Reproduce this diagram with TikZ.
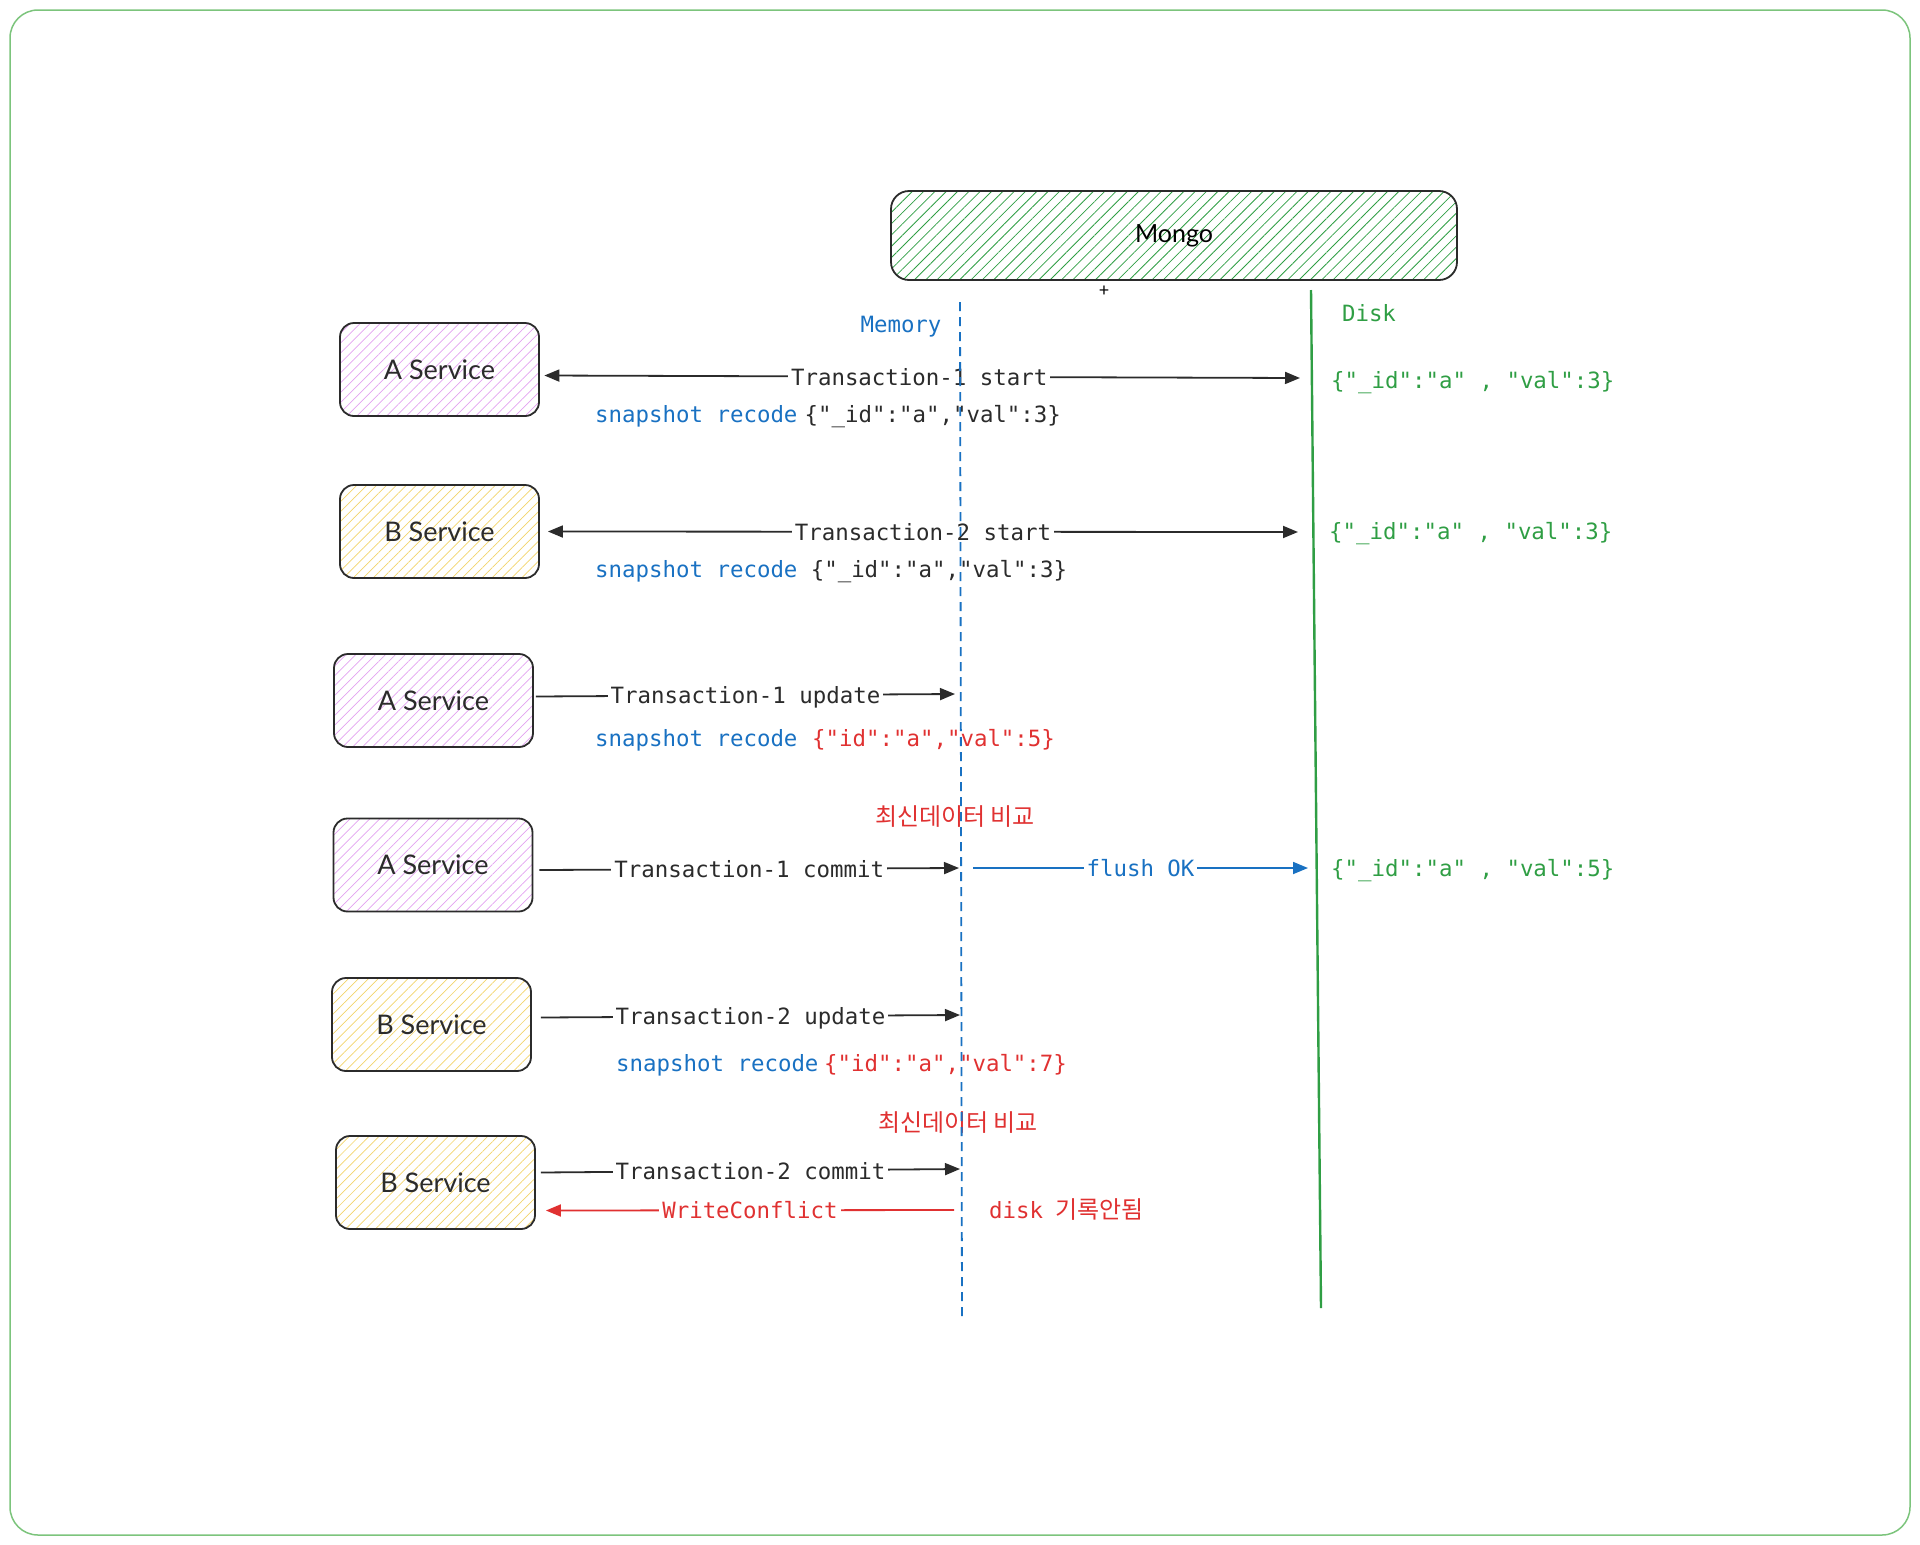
\documentclass[tikz,border=0pt]{standalone}
\usepackage{fontspec}
\setmainfont{Lato}
\setmonofont{DejaVu Sans Mono}
\newfontfamily\korfont{Noto Sans CJK KR}
\newfontfamily\handfont{Lato}
\usetikzlibrary{arrows.meta,patterns.meta}
\definecolor{ink}{HTML}{2B2B2B}
\definecolor{xblue}{HTML}{1971C2}
\definecolor{xgreen}{HTML}{2F9E44}
\definecolor{xred}{HTML}{E03131}
\definecolor{pinkh}{HTML}{E2A2F0}
\definecolor{yellowh}{HTML}{F2D46A}
\definecolor{frameg}{HTML}{7CC47C}
\tikzset{
  monof/.style={font=\fontsize{22.4}{27}\selectfont\ttfamily},
  svc/.style={draw=ink, line width=1.8pt, rounded corners=14pt, minimum width=199pt, minimum height=93pt,
    font=\fontsize{27}{30}\selectfont\handfont, text=ink},
  svcA/.style={svc, pattern={Lines[angle=45,distance=7pt,line width=0.7pt]}, pattern color=pinkh},
  svcB/.style={svc, pattern={Lines[angle=45,distance=7pt,line width=0.7pt]}, pattern color=yellowh},
  conn/.style={draw=ink, line width=1.8pt, -{Triangle[length=15pt,width=12pt]}},
  lbl/.style={monof, fill=white, inner sep=3pt, text=ink, text height=19pt, text depth=2pt},
  txt/.style={monof, inner sep=0pt, text height=19pt, text depth=2pt},
  kor/.style={font=\fontsize{24}{28}\selectfont\korfont, text=xred, inner sep=0pt},
}
\begin{document}
\begin{tikzpicture}[x=1pt,y=-1pt]
\useasboundingbox (0,0) rectangle (1920,1545);
\draw[frameg, line width=1.5pt, rounded corners=28pt] (10,10) rectangle (1910,1535);

% Mongo
\node[draw=ink, line width=1.8pt, rounded corners=18pt, minimum width=566pt, minimum height=89pt,
  pattern={Lines[angle=45,distance=8pt,line width=0.8pt]}, pattern color=xgreen,
  font=\fontsize{25}{28}\selectfont\handfont] (mongo) at (1174,235.5) {Mongo};
\node[font=\fontsize{18}{20}\selectfont, inner sep=0pt] (plus) at (1104,291) {+};

% labels
\node[txt, text=xblue] (memlbl) at (901,324) {Memory};
\node[txt, text=xgreen] (disklbl) at (1369,313) {Disk};

% services
\node[svcA] (a1) at (439.5,369.5) {A Service};
\node[svcB] (b2) at (439.5,531.5) {B Service};
\node[svcA] (a3) at (433.5,700.5) {A Service};
\node[svcA] (a4) at (433,865) {A Service};
\node[svcB] (b5) at (431.5,1024.5) {B Service};
\node[svcB] (b6) at (435.5,1182.5) {B Service};

% end coordinates
\coordinate (d1) at (1300,378);
\coordinate (d2) at (1298,532);
\coordinate (m3) at (955,694);
\coordinate (m4) at (959,868);
\coordinate (f0) at (973,868);
\coordinate (f1) at (1308,868);
\coordinate (m5) at (960,1015);
\coordinate (m6) at (960,1169);
\coordinate (w0) at (954,1210);

% connectors
\draw[conn, {Triangle[length=15pt,width=12pt]}-{Triangle[length=15pt,width=12pt]}]
  ([xshift=5pt,yshift=-6pt]a1.east) -- node[lbl, xshift=-3pt]{Transaction-1 start\hspace{12pt}} (d1);
\draw[conn, {Triangle[length=15pt,width=12pt]}-{Triangle[length=15pt,width=12pt]}]
  ([xshift=8pt]b2.east) -- node[lbl]{Transaction-2 start} (d2);
\draw[conn] ([xshift=2pt,yshift=4pt]a3.east) -- node[lbl]{Transaction-1 update} (m3);
\draw[conn] ([xshift=6pt,yshift=-5pt]a4.east) -- node[lbl]{Transaction-1 commit} (m4);
\draw[conn, draw=xblue, -{Triangle[length=15pt,width=12pt]}] (f0) -- node[lbl, text=xblue]{flush OK} (f1);
\draw[conn] ([xshift=9pt,yshift=7pt]b5.east) -- node[lbl]{Transaction-2 update} (m5);
\draw[conn] ([xshift=5pt,yshift=10pt]b6.east) -- node[lbl]{Transaction-2 commit} (m6);
\draw[conn, draw=xred, -{Triangle[length=15pt,width=12pt]}] (w0) -- node[lbl, text=xred]{WriteConflict} ([xshift=10pt,yshift=-28pt]b6.east);

% snapshot texts
\node[txt, anchor=west, text=xblue] (s1a) at (595,414) {snapshot recode};
\node[txt, anchor=west, text=ink] (s1b) at (804.5,414) {\{"\_id":"a","val":3\}};
\node[txt, anchor=west, text=xblue] (s2a) at (595,569) {snapshot recode};
\node[txt, anchor=west, text=ink] (s2b) at (810.6,569) {\{"\_id":"a","val":3\}};
\node[txt, anchor=west, text=xblue] (s3a) at (595,738) {snapshot recode};
\node[txt, anchor=west, text=xred] (s3b) at (812,738) {\{"id":"a","val":5\}};
\node[txt, anchor=west, text=xblue] (s5a) at (616,1063) {snapshot recode};
\node[txt, anchor=west, text=xred] (s5b) at (824,1063) {\{"id":"a","val":7\}};

% disk values
\node[txt, anchor=west, text=xgreen] (v1) at (1331,380) {\{"\_id":"a" , "val":3\}};
\node[txt, anchor=west, text=xgreen] (v2) at (1329,531) {\{"\_id":"a" , "val":3\}};
\node[txt, anchor=west, text=xgreen] (v3) at (1331,868) {\{"\_id":"a" , "val":5\}};

% korean notes
\node[kor] (k1) at (955,817) {최신데이터 비교};
\node[kor] (k2) at (958,1123) {최신데이터 비교};
\node[anchor=west, inner sep=0pt, text=xred] (k3) at (989,1209)
  {\fontsize{22.4}{27}\selectfont\ttfamily disk\hspace{12pt}\fontsize{24}{28}\selectfont\korfont 기록안됨};

% lifelines
\draw[xblue, line width=1.8pt, dash pattern=on 9pt off 6pt] (960,302) -- (962,1320);
\draw[xgreen, line width=2.4pt] (1311,290) -- (1321,1308);
\end{tikzpicture}
\end{document}
